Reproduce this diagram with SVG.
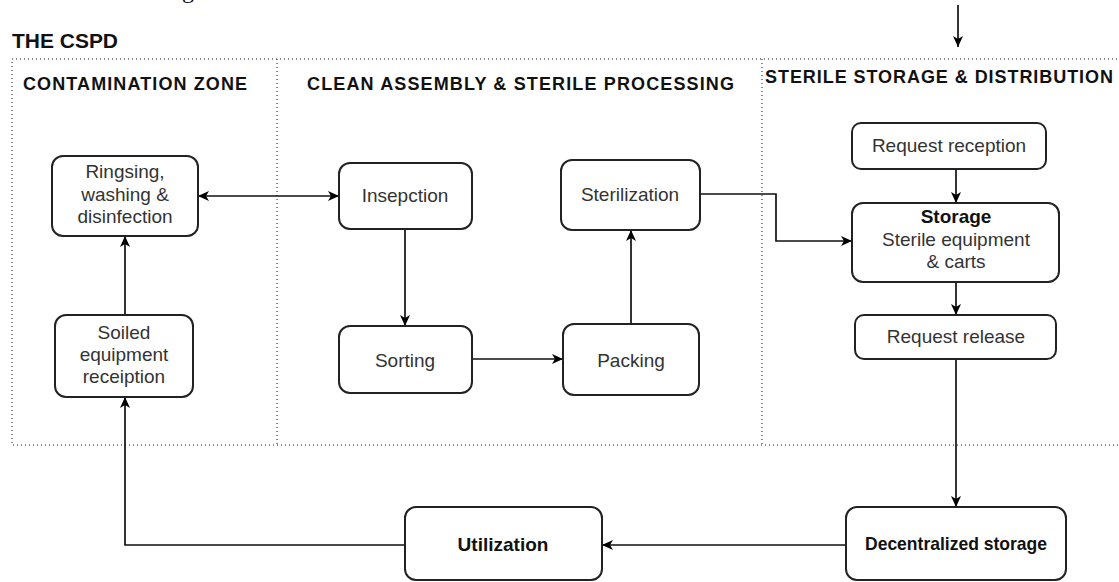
<svg xmlns="http://www.w3.org/2000/svg" width="1119" height="582" viewBox="0 0 1119 582">
<defs>
<marker id="arr" viewBox="0 0 11 10" refX="11" refY="5" markerWidth="11" markerHeight="10" markerUnits="userSpaceOnUse" orient="auto-start-reverse">
<path d="M0,0 L11,5 L0,10 L3,5 z" fill="#000"/>
</marker>
<style>
.zone{fill:none;stroke:#666;stroke-width:1.5;stroke-dasharray:1 3}
.box{fill:#fff;stroke:#222;stroke-width:2}
.t{font-family:"Liberation Sans",Arial,sans-serif;font-size:19px;fill:#333;text-anchor:middle}
.b{font-weight:bold;fill:#111}
.h{font-family:"Liberation Sans",Arial,sans-serif;font-weight:bold;fill:#111}
.ln{fill:none;stroke:#111;stroke-width:1.7}
</style>
</defs>
<rect width="1119" height="582" fill="#fff"/>
<text x="182" y="-2" font-family="Liberation Serif,serif" font-size="24" fill="#111">g</text>
<g id="zones">
<path class="zone" d="M1125,59 H12 V445 H1125"/>
<path class="zone" d="M277,59 V445 M762,59 V445"/>
<text class="h" x="12" y="48" font-size="20" textLength="106" lengthAdjust="spacingAndGlyphs">THE CSPD</text>
<text class="h" x="23" y="90" font-size="18" textLength="224" lengthAdjust="spacing">CONTAMINATION ZONE</text>
<text class="h" x="307" y="90" font-size="18" textLength="427" lengthAdjust="spacing">CLEAN ASSEMBLY &amp; STERILE PROCESSING</text>
<text class="h" x="765" y="83" font-size="18" textLength="348" lengthAdjust="spacing">STERILE STORAGE &amp; DISTRIBUTION</text>
</g>
<g id="connectors">
<path class="ln" d="M958,5 V47" marker-end="url(#arr)"/>
<path class="ln" d="M125,315 V236" marker-end="url(#arr)"/>
<path class="ln" d="M198,196 H339" marker-start="url(#arr)" marker-end="url(#arr)"/>
<path class="ln" d="M405,229 V326" marker-end="url(#arr)"/>
<path class="ln" d="M472,359 H563" marker-end="url(#arr)"/>
<path class="ln" d="M631,324 V230" marker-end="url(#arr)"/>
<path class="ln" d="M700,194 H776 V241 H852" marker-end="url(#arr)"/>
<path class="ln" d="M956,169 V203" marker-end="url(#arr)"/>
<path class="ln" d="M956,282 V315" marker-end="url(#arr)"/>
<path class="ln" d="M956,359 V507" marker-end="url(#arr)"/>
<path class="ln" d="M846,545 H602" marker-end="url(#arr)"/>
<path class="ln" d="M405,545 H125 V397" marker-end="url(#arr)"/>
</g>
<g id="ringsing">
<rect class="box" x="52" y="156" width="146" height="80" rx="11"/>
<text class="t" x="125" y="178">Ringsing,</text>
<text class="t" x="125" y="201">washing &amp;</text>
<text class="t" x="125" y="223">disinfection</text>
</g>
<g id="soiled">
<rect class="box" x="55" y="315" width="138" height="82" rx="11"/>
<text class="t" x="124" y="339">Soiled</text>
<text class="t" x="124" y="361">equipment</text>
<text class="t" x="124" y="383">receiption</text>
</g>
<g id="insepction">
<rect class="box" x="339" y="163" width="133" height="66" rx="11"/>
<text class="t" x="405" y="202">Insepction</text>
</g>
<g id="sorting">
<rect class="box" x="339" y="326" width="133" height="67" rx="11"/>
<text class="t" x="405" y="367">Sorting</text>
</g>
<g id="sterilization">
<rect class="box" x="561" y="160" width="139" height="70" rx="11"/>
<text class="t" x="630" y="201">Sterilization</text>
</g>
<g id="packing">
<rect class="box" x="563" y="324" width="136" height="71" rx="11"/>
<text class="t" x="631" y="367">Packing</text>
</g>
<g id="request-reception">
<rect class="box" x="852" y="123" width="194" height="46" rx="9"/>
<text class="t" x="949" y="152">Request reception</text>
</g>
<g id="storage">
<rect class="box" x="852" y="203" width="207" height="79" rx="11"/>
<text class="t b" x="956" y="223">Storage</text>
<text class="t" x="956" y="246">Sterile equipment</text>
<text class="t" x="956" y="268">&amp; carts</text>
</g>
<g id="request-release">
<rect class="box" x="855" y="315" width="201" height="44" rx="9"/>
<text class="t" x="956" y="343">Request release</text>
</g>
<g id="utilization">
<rect class="box" x="405" y="507" width="197" height="73" rx="11"/>
<text class="t b" x="503" y="551" font-size="18">Utilization</text>
</g>
<g id="decentralized">
<rect class="box" x="846" y="507" width="220" height="73" rx="11"/>
<text class="t b" x="956" y="550" font-size="16" textLength="182" lengthAdjust="spacingAndGlyphs">Decentralized storage</text>
</g>
</svg>
